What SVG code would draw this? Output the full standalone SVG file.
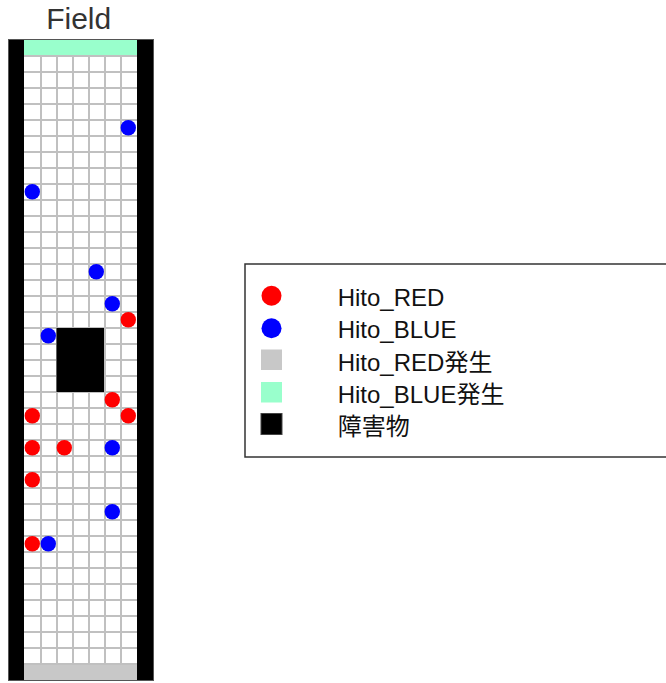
<svg xmlns="http://www.w3.org/2000/svg" width="666" height="683" viewBox="0 0 666 683">
<style>
.grid line{stroke:#c0c0c0;stroke-width:2}
.red{fill:#ff0000}
.blue{fill:#0000ff}
.lt{font-family:"Liberation Sans","Noto Sans CJK JP",Arial,sans-serif;font-size:24px;fill:#111}
</style>
<rect width="666" height="683" fill="#ffffff"/>
<text x="78.7" y="29.3" text-anchor="middle" font-family="Liberation Sans, Arial, sans-serif" font-size="30" fill="#333">Field</text>
<g id="field">
<rect x="8.5" y="39.5" width="145" height="641" fill="#000" stroke="#555" stroke-width="1"/>
<rect x="24" y="40" width="113" height="640" fill="#fff"/>
<rect x="24" y="40" width="113" height="15.5" fill="#99ffcc"/>
<rect x="24" y="665" width="113" height="15" fill="#c8c8c8"/>
<g class="grid">
<line x1="41" y1="56" x2="41" y2="665"/>
<line x1="57" y1="56" x2="57" y2="665"/>
<line x1="73" y1="56" x2="73" y2="665"/>
<line x1="89" y1="56" x2="89" y2="665"/>
<line x1="105" y1="56" x2="105" y2="665"/>
<line x1="121" y1="56" x2="121" y2="665"/>
<line x1="24" y1="56" x2="137" y2="56"/>
<line x1="24" y1="72" x2="137" y2="72"/>
<line x1="24" y1="88" x2="137" y2="88"/>
<line x1="24" y1="104" x2="137" y2="104"/>
<line x1="24" y1="120" x2="137" y2="120"/>
<line x1="24" y1="136" x2="137" y2="136"/>
<line x1="24" y1="152" x2="137" y2="152"/>
<line x1="24" y1="168" x2="137" y2="168"/>
<line x1="24" y1="184" x2="137" y2="184"/>
<line x1="24" y1="200" x2="137" y2="200"/>
<line x1="24" y1="216" x2="137" y2="216"/>
<line x1="24" y1="232" x2="137" y2="232"/>
<line x1="24" y1="248" x2="137" y2="248"/>
<line x1="24" y1="264" x2="137" y2="264"/>
<line x1="24" y1="280" x2="137" y2="280"/>
<line x1="24" y1="296" x2="137" y2="296"/>
<line x1="24" y1="312" x2="137" y2="312"/>
<line x1="24" y1="328" x2="137" y2="328"/>
<line x1="24" y1="344" x2="137" y2="344"/>
<line x1="24" y1="360" x2="137" y2="360"/>
<line x1="24" y1="376" x2="137" y2="376"/>
<line x1="24" y1="392" x2="137" y2="392"/>
<line x1="24" y1="408" x2="137" y2="408"/>
<line x1="24" y1="424" x2="137" y2="424"/>
<line x1="24" y1="440" x2="137" y2="440"/>
<line x1="24" y1="456" x2="137" y2="456"/>
<line x1="24" y1="472" x2="137" y2="472"/>
<line x1="24" y1="488" x2="137" y2="488"/>
<line x1="24" y1="504" x2="137" y2="504"/>
<line x1="24" y1="520" x2="137" y2="520"/>
<line x1="24" y1="536" x2="137" y2="536"/>
<line x1="24" y1="552" x2="137" y2="552"/>
<line x1="24" y1="568" x2="137" y2="568"/>
<line x1="24" y1="584" x2="137" y2="584"/>
<line x1="24" y1="600" x2="137" y2="600"/>
<line x1="24" y1="616" x2="137" y2="616"/>
<line x1="24" y1="632" x2="137" y2="632"/>
<line x1="24" y1="648" x2="137" y2="648"/>
<line x1="24" y1="664" x2="137" y2="664"/>
</g>
<rect x="56.5" y="328" width="47.5" height="64" fill="#000"/>
<g id="hitos">
<circle class="blue" cx="128.3" cy="127.7" r="7.7"/>
<circle class="blue" cx="32.3" cy="191.7" r="7.7"/>
<circle class="blue" cx="96.3" cy="271.7" r="7.7"/>
<circle class="blue" cx="112.3" cy="303.7" r="7.7"/>
<circle class="red" cx="128.3" cy="319.7" r="7.7"/>
<circle class="blue" cx="48.3" cy="335.7" r="7.7"/>
<circle class="red" cx="112.3" cy="399.7" r="7.7"/>
<circle class="red" cx="32.3" cy="415.7" r="7.7"/>
<circle class="red" cx="128.3" cy="415.7" r="7.7"/>
<circle class="red" cx="32.3" cy="447.7" r="7.7"/>
<circle class="red" cx="64.3" cy="447.7" r="7.7"/>
<circle class="blue" cx="112.3" cy="447.7" r="7.7"/>
<circle class="red" cx="32.3" cy="479.7" r="7.7"/>
<circle class="blue" cx="112.3" cy="511.7" r="7.7"/>
<circle class="red" cx="32.3" cy="543.7" r="7.7"/>
<circle class="blue" cx="48.3" cy="543.7" r="7.7"/>
</g>
</g>
<g id="legend">
<rect x="245" y="264" width="430" height="193" fill="#fff" stroke="#333" stroke-width="1.5"/>
<circle class="red" cx="271.5" cy="295.7" r="10"/>
<circle class="blue" cx="271.5" cy="328.3" r="10"/>
<rect x="261" y="349.5" width="21" height="20.5" fill="#c8c8c8"/>
<rect x="261" y="382" width="21" height="20.5" fill="#99ffcc"/>
<rect x="261" y="413.5" width="21" height="21" fill="#000" stroke="#444" stroke-width="1"/>
<text class="lt" x="337.7" y="305.7">Hito_RED</text>
<text class="lt" x="337.7" y="338.3">Hito_BLUE</text>
<text class="lt" x="337.7" y="370.7">Hito_RED発生</text>
<text class="lt" x="337.7" y="403.3">Hito_BLUE発生</text>
<text class="lt" x="337.7" y="435">障害物</text>
</g>
</svg>
